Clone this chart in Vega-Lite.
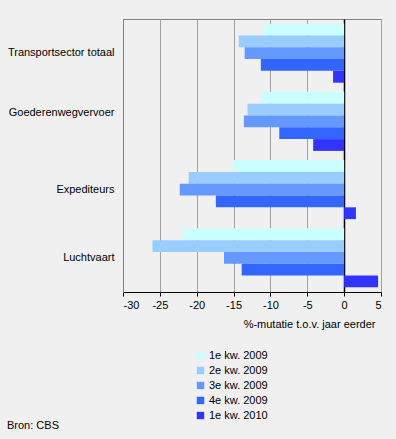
{
  "$schema": "https://vega.github.io/schema/vega-lite/v6.json",
  "autosize": {"type": "none"},
  "width": 258,
  "height": 273,
  "padding": {"left": 123, "top": 19, "right": 15, "bottom": 147},
  "background": "#f0f0f0",
  "config": {
    "font": "Liberation Sans",
    "view": {"stroke": "#808080", "strokeWidth": 1, "fill": "#f0f0f0"},
    "axis": {"labelFont": "Liberation Sans", "titleFont": "Liberation Sans", "labelFontSize": 11, "labelColor": "#000000"},
    "legend": {"labelFont": "Liberation Sans", "labelFontSize": 11}
  },
  "title": {
    "text": "Bron: CBS",
    "orient": "bottom",
    "anchor": "start",
    "frame": "group",
    "dx": -116,
    "offset": 0,
    "dy": -1,
    "fontSize": 11,
    "fontWeight": "normal",
    "font": "Liberation Sans",
    "color": "#000000"
  },
  "data": {
    "values": [
      {"categorie": "Transportsector totaal", "kwartaal": "1e kw. 2009", "waarde": -11.0},
      {"categorie": "Transportsector totaal", "kwartaal": "2e kw. 2009", "waarde": -14.3},
      {"categorie": "Transportsector totaal", "kwartaal": "3e kw. 2009", "waarde": -13.5},
      {"categorie": "Transportsector totaal", "kwartaal": "4e kw. 2009", "waarde": -11.3},
      {"categorie": "Transportsector totaal", "kwartaal": "1e kw. 2010", "waarde": -1.5},
      {"categorie": "Goederenwegvervoer", "kwartaal": "1e kw. 2009", "waarde": -11.3},
      {"categorie": "Goederenwegvervoer", "kwartaal": "2e kw. 2009", "waarde": -13.1},
      {"categorie": "Goederenwegvervoer", "kwartaal": "3e kw. 2009", "waarde": -13.6},
      {"categorie": "Goederenwegvervoer", "kwartaal": "4e kw. 2009", "waarde": -8.8},
      {"categorie": "Goederenwegvervoer", "kwartaal": "1e kw. 2010", "waarde": -4.2},
      {"categorie": "Expediteurs", "kwartaal": "1e kw. 2009", "waarde": -15.0},
      {"categorie": "Expediteurs", "kwartaal": "2e kw. 2009", "waarde": -21.1},
      {"categorie": "Expediteurs", "kwartaal": "3e kw. 2009", "waarde": -22.3},
      {"categorie": "Expediteurs", "kwartaal": "4e kw. 2009", "waarde": -17.4},
      {"categorie": "Expediteurs", "kwartaal": "1e kw. 2010", "waarde": 1.6},
      {"categorie": "Luchtvaart", "kwartaal": "1e kw. 2009", "waarde": -21.9},
      {"categorie": "Luchtvaart", "kwartaal": "2e kw. 2009", "waarde": -26.0},
      {"categorie": "Luchtvaart", "kwartaal": "3e kw. 2009", "waarde": -16.3},
      {"categorie": "Luchtvaart", "kwartaal": "4e kw. 2009", "waarde": -13.9},
      {"categorie": "Luchtvaart", "kwartaal": "1e kw. 2010", "waarde": 4.6}
    ]
  },
  "mark": {"type": "bar", "orient": "horizontal"},
  "encoding": {
    "y": {
      "field": "categorie",
      "type": "nominal",
      "sort": ["Transportsector totaal", "Goederenwegvervoer", "Expediteurs", "Luchtvaart"],
      "scale": {"paddingInner": 0.135, "paddingOuter": 0.068},
      "axis": {
        "title": null,
        "ticks": false,
        "labelPadding": 9,
        "labelOffset": {"condition": {"test": "datum.value === 'Goederenwegvervoer'", "value": -8}, "value": 0},
        "domainColor": "#808080",
        "grid": false
      }
    },
    "yOffset": {
      "field": "kwartaal",
      "type": "nominal",
      "sort": ["1e kw. 2009", "2e kw. 2009", "3e kw. 2009", "4e kw. 2009", "1e kw. 2010"],
      "scale": {"paddingInner": 0, "paddingOuter": 0}
    },
    "x": {
      "field": "waarde",
      "type": "quantitative",
      "scale": {"domain": [-30, 5], "nice": false},
      "axis": {
        "values": [-30, -25, -20, -15, -10, -5, 0, 5],
        "labelExpr": "datum.value < 0 ? '-' + abs(datum.value) : '' + datum.value",
        "title": "%-mutatie t.o.v. jaar eerder",
        "titleFontWeight": "normal",
        "titleFontSize": 11,
        "titleColor": "#000000",
        "titleAnchor": "end",
        "titleAlign": "right",
        "titleX": 252,
        "titlePadding": 8,
        "grid": true,
        "gridColor": {"condition": {"test": "datum.value === 0", "value": "#000000"}, "value": "#a0a0a0"},
        "gridWidth": {"condition": {"test": "datum.value === 0", "value": 1.5}, "value": 1},
        "domainColor": "#000000",
        "tickColor": "#000000",
        "tickSize": 4,
        "labelPadding": 3
      }
    },
    "color": {
      "field": "kwartaal",
      "type": "nominal",
      "sort": ["1e kw. 2009", "2e kw. 2009", "3e kw. 2009", "4e kw. 2009", "1e kw. 2010"],
      "scale": {
        "domain": ["1e kw. 2009", "2e kw. 2009", "3e kw. 2009", "4e kw. 2009", "1e kw. 2010"],
        "range": ["#ccffff", "#99ccff", "#6699ff", "#3366ff", "#3333ff"]
      },
      "legend": {
        "title": null,
        "orient": "none",
        "legendX": 72,
        "legendY": 331,
        "symbolType": "square",
        "symbolSize": 55,
        "symbolStrokeWidth": 0,
        "rowPadding": 3,
        "labelOffset": 3,
        "labelColor": "#000000"
      }
    }
  }
}
